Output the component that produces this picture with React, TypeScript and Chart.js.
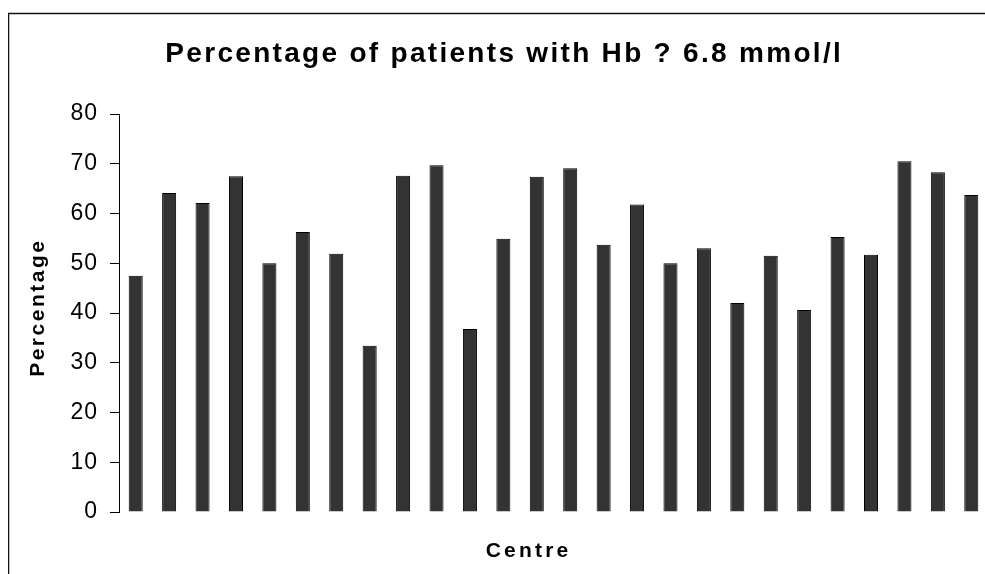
import React, { useEffect, useRef } from 'react';
import { Chart, registerables } from 'chart.js';

Chart.register(...registerables);

const TITLE = 'Percentage of patients with Hb ? 6.8 mmol/l';
const X_TITLE = 'Centre';
const Y_TITLE = 'Percentage';

const centres = [
  '1', '2', '3', '4', '5', '6', '7', '8', '9', '10', '11', '12', '13',
  '14', '15', '16', '17', '18', '19', '20', '21', '22', '23', '24', '25', '26',
];

const percentages = [
  47.5, 64.1, 62.1, 67.5, 50.0, 56.3, 51.9, 33.4, 67.6, 69.7, 36.8, 54.9, 67.4,
  69.1, 53.7, 61.8, 50.0, 53.0, 42.0, 51.5, 40.6, 55.3, 51.7, 70.5, 68.3, 63.7,
];

const Y_MIN = 0;
const Y_MAX = 80;
const Y_STEP = 10;

const FONT = '"Liberation Sans", Arial, sans-serif';

const textPlugin = {
  id: 'spacedText',
  beforeLayout(chart: any) {
    chart.ctx.letterSpacing = '1px';
  },
  beforeDraw(chart: any) {
    const ctx = chart.ctx;
    ctx.letterSpacing = '1px';
    ctx.save();
    ctx.strokeStyle = '#111';
    ctx.lineWidth = 1.3;
    ctx.beginPath();
    ctx.moveTo(0.6, chart.height + 2);
    ctx.lineTo(0.6, 5.5);
    ctx.lineTo(chart.width + 2, 5.5);
    ctx.stroke();
    ctx.restore();
  },
  afterDraw(chart: any) {
    const ctx = chart.ctx;
    const o = chart.options.plugins.spacedText;
    ctx.save();
    ctx.fillStyle = '#000';
    ctx.textBaseline = 'alphabetic';
    ctx.textAlign = 'center';

    // title
    ctx.font = `bold 28px ${FONT}`;
    ctx.letterSpacing = '2.3px';
    ctx.fillText(o.title, 495 + 1.2, 54);

    // x title
    ctx.font = `bold 21px ${FONT}`;
    ctx.letterSpacing = '3.2px';
    ctx.fillText(o.xTitle, 519 + 1.6, 549);

    // y title
    ctx.save();
    ctx.translate(36, 301);
    ctx.rotate(-Math.PI / 2);
    ctx.font = `bold 21px ${FONT}`;
    ctx.letterSpacing = '2.5px';
    ctx.fillText(o.yTitle, 1.3, 0);
    ctx.restore();

    ctx.restore();
  },
};

export default function App() {
  const ref = useRef<HTMLCanvasElement | null>(null);

  useEffect(() => {
    if (!ref.current) return;
    const chart = new Chart(ref.current, {
      type: 'bar',
      data: {
        labels: centres,
        datasets: [
          {
            label: Y_TITLE,
            data: percentages,
            backgroundColor: '#333333',
            borderColor: '#000000',
            borderWidth: 1,
            barPercentage: 0.42,
            categoryPercentage: 1,
          },
        ],
      },
      options: {
        animation: false,
        responsive: true,
        maintainAspectRatio: false,
        devicePixelRatio: 1,
        layout: { padding: { top: 106, bottom: 76, left: 0, right: 20 } },
        plugins: {
          legend: { display: false },
          title: { display: false },
          tooltip: { enabled: false },
          spacedText: { title: TITLE, xTitle: X_TITLE, yTitle: Y_TITLE },
        } as any,
        scales: {
          x: {
            display: false,
            offset: true,
          },
          y: {
            min: Y_MIN,
            max: Y_MAX,
            afterFit: (scale: any) => {
              scale.width = 111;
            },
            ticks: {
              stepSize: Y_STEP,
              color: '#000',
              padding: 12,
              font: { family: FONT, size: 23 },
            },
            grid: {
              drawOnChartArea: false,
              drawTicks: true,
              tickLength: 9,
              color: '#000',
            },
            border: { display: true, color: '#000', width: 1 },
          },
        },
      },
      plugins: [textPlugin],
    });
    return () => chart.destroy();
  }, []);

  return (
    <div
      style={{
        position: 'fixed',
        left: 8,
        top: 8,
        width: 977,
        height: 566,
        overflow: 'hidden',
        background: '#fff',
      }}
    >
      <div style={{ position: 'relative', width: 1000, height: 580 }}>
        <canvas ref={ref} />
      </div>
    </div>
  );
}
